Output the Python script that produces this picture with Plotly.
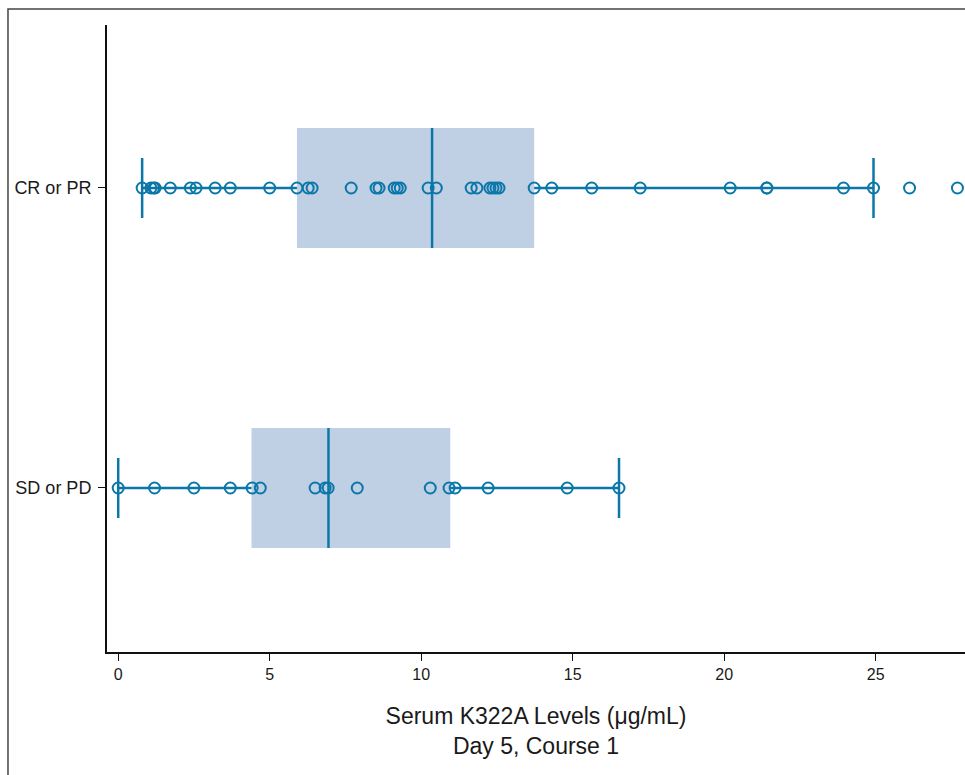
import plotly.graph_objects as go

# ---- data ----
groups = ["CR or PR", "SD or PD"]
group_pos = [1, 0]

cr_values = [0.79, 1.08, 1.17, 1.22, 1.72, 2.38, 2.57, 3.2, 3.7, 5.0, 5.9, 6.27, 6.4,
             7.69, 8.51, 8.61, 9.11, 9.21, 9.31, 10.23, 10.5, 11.65, 11.84, 12.27,
             12.37, 12.47, 12.57, 13.73, 14.31, 15.63, 17.23, 20.2, 21.41, 21.41,
             23.94, 24.93, 26.12, 27.7]
sd_values = [0.0, 1.2, 2.5, 3.7, 4.42, 4.69, 6.5, 6.83, 6.93, 7.89, 10.3, 10.92,
             11.12, 12.21, 14.82, 16.53]

# box statistics: lower whisker, q1, median, q3, upper whisker
cr_stats = [0.79, 5.9, 10.36, 13.73, 24.93]
sd_stats = [0.0, 4.4, 6.94, 10.96, 16.53]

x_ticks = [0, 5, 10, 15, 20, 25]

TEAL = "#0a77a8"
FILL = "#bfcfe4"
BOX_HALF = 0.2
CAP_HALF = 0.1

fig = go.Figure()

for values, stats, c in [(cr_values, cr_stats, 1), (sd_values, sd_stats, 0)]:
    lo, q1, med, q3, hi = stats
    # box
    fig.add_trace(go.Scatter(
        x=[q1, q3, q3, q1, q1],
        y=[c - BOX_HALF, c - BOX_HALF, c + BOX_HALF, c + BOX_HALF, c - BOX_HALF],
        mode="lines", fill="toself", fillcolor=FILL,
        line=dict(width=0, color=FILL), hoverinfo="skip", showlegend=False))
    # whiskers + caps + median
    fig.add_trace(go.Scatter(
        x=[lo, q1, None, q3, hi, None, lo, lo, None, hi, hi, None, med, med],
        y=[c, c, None, c, c, None, c - CAP_HALF, c + CAP_HALF, None,
           c - CAP_HALF, c + CAP_HALF, None, c - BOX_HALF, c + BOX_HALF],
        mode="lines", line=dict(color=TEAL, width=2.5),
        hoverinfo="skip", showlegend=False))
    # points
    fig.add_trace(go.Scatter(
        x=values, y=[c] * len(values), mode="markers", cliponaxis=False,
        marker=dict(symbol="circle-open", size=11, color=TEAL,
                    line=dict(width=2, color=TEAL)),
        showlegend=False))

fig.add_shape(type="rect", xref="paper", yref="paper",
              x0=-0.1154, x1=1.2, y0=-0.3, y1=1.0255,
              line=dict(color="#444444", width=1.5), layer="above")

fig.update_layout(
    width=965, height=775,
    margin=dict(l=107, r=0, t=25, b=123),
    paper_bgcolor="white", plot_bgcolor="white",
    font=dict(family="Liberation Sans, Arial, sans-serif", color="#1a1a1a"),
    xaxis=dict(
        range=[-0.37, 27.95], tickvals=x_ticks,
        ticktext=[str(t) for t in x_ticks],
        showgrid=False, zeroline=False,
        showline=True, linecolor="#111111", linewidth=2,
        ticks="outside", ticklen=7, tickcolor="#111111", tickwidth=1,
        tickfont=dict(family="Liberation Sans Narrow, Liberation Sans, sans-serif", size=16),
        title=dict(text="Serum K322A Levels (μg/mL)<br>Day 5, Course 1",
                   font=dict(family="Liberation Sans Narrow, Liberation Sans, sans-serif", size=23),
                   standoff=26),
    ),
    yaxis=dict(
        range=[-0.5467, 1.5433], tickvals=group_pos, ticktext=groups,
        showgrid=False, zeroline=False,
        showline=True, linecolor="#111111", linewidth=2,
        ticks="outside", ticklen=7, tickcolor="#111111", tickwidth=1,
        ticklabelstandoff=3,
        tickfont=dict(family="Liberation Sans, Arial, sans-serif", size=18),
    ),
)

fig.write_html(
    "out.html",
    config={"displayModeBar": False},
    post_script="document.body.style.margin='0';document.body.style.overflow='hidden';",
)
